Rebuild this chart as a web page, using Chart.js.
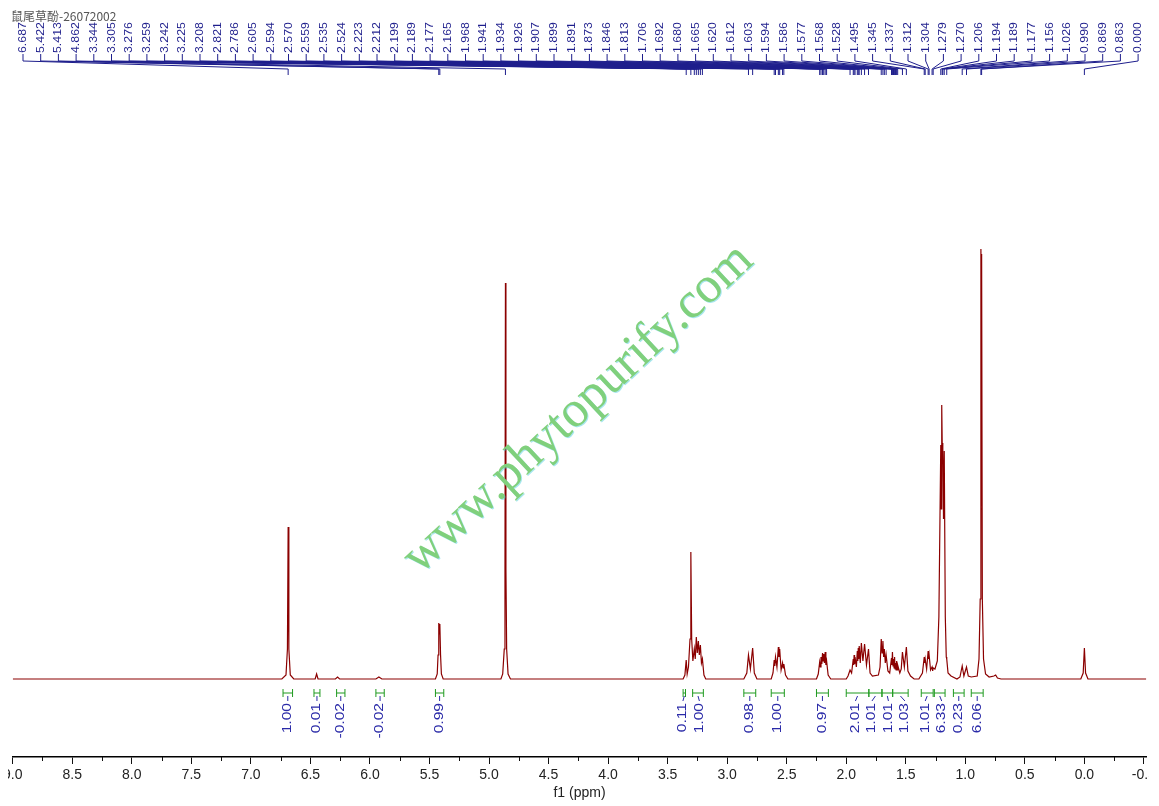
<!DOCTYPE html>
<html>
<head>
<meta charset="utf-8">
<title>鼠尾草酚 1H NMR</title>
<script src="https://cdn.jsdelivr.net/npm/chart.js"></script>
<style>
  html, body { margin: 0; padding: 0; background: #fff; }
  #nmr { display: block; clip-path: inset(0 10px 0 8px); }
</style>
</head>
<body>
<canvas id="nmr" width="1159" height="806"></canvas>
<script>
// spectrum trace: chemical shift (ppm) and intensity, left to right
const specPpm = [
  9.00,
  6.74, 6.705, 6.693, 6.687, 6.681, 6.669, 6.64,
  6.46, 6.448, 6.436,
  6.29, 6.272, 6.255,
  5.95, 5.925, 5.90,
  5.45, 5.435, 5.428, 5.422, 5.417, 5.413, 5.407, 5.40, 5.385,
  4.90, 4.885, 4.872, 4.866, 4.862, 4.858, 4.852, 4.84, 4.82,
  3.37, 3.355, 3.344, 3.336, 3.325, 3.312, 3.305, 3.298, 3.288, 3.276, 3.268, 3.259, 3.251, 3.242, 3.234, 3.225, 3.216, 3.208, 3.195, 3.18,
  2.86, 2.835, 2.821, 2.805, 2.786, 2.772, 2.75,
  2.63, 2.615, 2.605, 2.600, 2.594, 2.582, 2.570, 2.565, 2.559, 2.547, 2.535, 2.530, 2.524, 2.51, 2.49,
  2.25, 2.235, 2.223, 2.217, 2.212, 2.205, 2.199, 2.194, 2.189, 2.183, 2.177, 2.171, 2.165, 2.152, 2.13,
  2.00, 1.985, 1.968, 1.955, 1.941, 1.937, 1.934, 1.930, 1.926, 1.915, 1.907, 1.903, 1.899, 1.895, 1.891, 1.882, 1.873, 1.860, 1.846, 1.830, 1.813, 1.80, 1.78,
  1.73, 1.716, 1.706, 1.699, 1.692, 1.686, 1.680, 1.672, 1.665, 1.650, 1.635, 1.620, 1.616, 1.612, 1.607, 1.603, 1.598, 1.594, 1.590, 1.586, 1.581, 1.577, 1.572, 1.568, 1.55, 1.538, 1.528, 1.512, 1.495, 1.482, 1.46, 1.43,
  1.39, 1.36, 1.345, 1.341, 1.337, 1.325, 1.312, 1.308, 1.304, 1.292, 1.279, 1.274, 1.270, 1.255,
  1.235, 1.222, 1.206, 1.202, 1.198, 1.194, 1.189, 1.183, 1.177, 1.168, 1.160, 1.156, 1.145, 1.12, 1.07,
  1.045, 1.026, 1.012, 0.990, 0.975, 0.95,
  0.90, 0.885, 0.875, 0.869, 0.866, 0.863, 0.857, 0.847, 0.83, 0.80, 0.76, 0.745, 0.73, 0.70,
  0.03, 0.010, 0.000, -0.010, -0.03,
  -0.52
];
const specInt = [
  0,
  0, 4, 30, 152, 30, 4, 0,
  0, 5, 0,
  0, 2, 0,
  0, 2, 0,
  0, 5, 24, 56, 45, 55, 24, 5, 0,
  0, 5, 30, 110, 396, 110, 30, 5, 0,
  0, 4, 19, 5, 12, 40, 127, 40, 18, 30, 20, 42, 26, 38, 24, 34, 16, 20, 4, 0,
  0, 6, 24, 10, 31, 6, 0,
  0, 6, 19, 13, 22, 12, 32, 22, 30, 9, 16, 11, 15, 4, 0,
  0, 5, 17, 12, 22, 15, 26, 18, 25, 16, 27, 14, 18, 4, 0,
  0, 3, 9, 6, 20, 14, 24, 15, 22, 12, 28, 18, 31, 20, 33, 16, 36, 18, 35, 14, 30, 6, 3,
  4, 12, 40, 26, 38, 22, 30, 16, 24, 8, 6, 21, 14, 27, 13, 20, 11, 22, 10, 16, 9, 18, 9, 14, 6, 10, 27, 12, 32, 8, 3, 0,
  0, 6, 22, 16, 20, 10, 28, 20, 24, 9, 12, 8, 11, 10,
  18, 62, 234, 170, 274, 236, 230, 160, 228, 62, 22, 20, 6, 3, 0,
  2, 13, 3, 12, 3, 2,
  3, 20, 80, 430, 390, 425, 80, 20, 5, 2, 3, 4, 1, 0,
  0, 6, 31, 6, 0,
  0
];

// peak picking labels across the top
const peakLabels = [
  '6.687', '5.422', '5.413', '4.862', '3.344', '3.305', '3.276', '3.259', '3.242', '3.225', '3.208',
  '2.821', '2.786', '2.605', '2.594', '2.570', '2.559', '2.535', '2.524',
  '2.223', '2.212', '2.199', '2.189', '2.177', '2.165',
  '1.968', '1.941', '1.934', '1.926', '1.907', '1.899', '1.891', '1.873', '1.846', '1.813',
  '1.706', '1.692', '1.680', '1.665', '1.620', '1.612', '1.603', '1.594', '1.586', '1.577', '1.568',
  '1.528', '1.495', '1.345', '1.337', '1.312', '1.304', '1.279', '1.270',
  '1.206', '1.194', '1.189', '1.177', '1.156', '1.026', '0.990', '0.869', '0.863', '0.000'
];

// integration regions (ppm from / to) and their values
const integFrom = [6.73, 6.47, 6.28, 5.95, 5.45, 3.37, 3.29, 2.86, 2.63, 2.25, 2.00, 1.81, 1.70, 1.61, 1.37, 1.26, 1.10, 0.95];
const integTo   = [6.65, 6.42, 6.21, 5.88, 5.38, 3.35, 3.20, 2.76, 2.52, 2.15, 1.81, 1.70, 1.61, 1.48, 1.27, 1.17, 1.01, 0.85];
const integValues = ['1.00', '0.01', '-0.02', '-0.02', '0.99', '0.11', '1.00', '0.98', '1.00', '0.97',
  '2.01', '1.01', '1.01', '1.03', '1.01', '6.33', '0.23', '6.06'];

const sampleTitle = '鼠尾草酚-26072002';
const watermark = 'www.phytopurify.com';

const navy = '#1e1e8c';

const annotations = {
  id: 'annotations',
  afterDraw(chart) {
    const c = chart.ctx;
    const x = chart.scales.x;
    const bottom = chart.chartArea.bottom;

    // minor ticks
    c.save();
    c.strokeStyle = '#111';
    c.lineWidth = 1;
    for (const t of x.ticks) {
      if (Math.abs(t.value * 2 - Math.round(t.value * 2)) > 1e-6) {
        const px = Math.round(x.getPixelForValue(t.value)) + 0.5;
        c.beginPath();
        c.moveTo(px, bottom);
        c.lineTo(px, bottom + 4);
        c.stroke();
      }
    }
    c.restore();

    // peak labels with leader lines
    c.save();
    c.font = '11px "Liberation Sans", Arial, sans-serif';
    c.fillStyle = navy;
    c.strokeStyle = navy;
    c.lineWidth = 1;
    const slot0 = 23, slotStep = 17.7;
    peakLabels.forEach((lab, i) => {
      const sx = slot0 + i * slotStep;
      const px = x.getPixelForValue(parseFloat(lab));
      c.save();
      c.translate(sx, 53);
      c.rotate(-Math.PI / 2);
      c.scale(1.12, 1);
      c.textAlign = 'left';
      c.textBaseline = 'middle';
      c.fillText(lab, 0, 0);
      c.restore();
      c.beginPath();
      c.moveTo(sx, 54);
      c.lineTo(sx, 61);
      c.lineTo(px, 69);
      c.lineTo(px, 75);
      c.stroke();
    });
    c.restore();

    // integrals
    const centers = integFrom.map((a, i) => (x.getPixelForValue(a) + x.getPixelForValue(integTo[i])) / 2);
    const lx = centers.slice();
    const gap = 16.5;
    for (let it = 0; it < 300; it++) {
      let moved = false;
      for (let i = 1; i < lx.length; i++) {
        const d = lx[i] - lx[i - 1];
        if (d < gap - 0.01) {
          const s = (gap - d) / 2;
          lx[i - 1] -= s;
          lx[i] += s;
          moved = true;
        }
      }
      if (!moved) break;
    }
    c.save();
    c.lineWidth = 1;
    integFrom.forEach((a, i) => {
      const x1 = x.getPixelForValue(a);
      const x2 = x.getPixelForValue(integTo[i]);
      c.strokeStyle = '#1f9a1f';
      c.beginPath();
      c.moveTo(x1, 689); c.lineTo(x1, 697);
      c.moveTo(x1, 693); c.lineTo(x2, 693);
      c.moveTo(x2, 689); c.lineTo(x2, 697);
      c.stroke();
      c.strokeStyle = '#2a2aa8';
      c.beginPath();
      c.moveTo(centers[i], 696);
      c.lineTo(lx[i], 701);
      c.stroke();
      c.save();
      c.translate(lx[i], 703);
      c.rotate(-Math.PI / 2);
      c.scale(1.3, 1);
      c.font = '12px "Liberation Sans", Arial, sans-serif';
      c.fillStyle = '#2a2aa8';
      c.textAlign = 'right';
      c.textBaseline = 'middle';
      c.fillText(integValues[i], 0, 0);
      c.restore();
    });
    c.restore();

    // sample name
    c.save();
    c.font = '12px "Noto Sans CJK SC", sans-serif';
    c.fillStyle = '#555';
    c.textBaseline = 'alphabetic';
    c.fillText(sampleTitle, 11, 21);
    c.restore();

    // watermark
    c.save();
    c.translate(420, 575);
    c.rotate(-43 * Math.PI / 180);
    c.font = '51px "Liberation Serif", "DejaVu Serif", serif';
    c.shadowColor = 'rgba(60,200,220,0.45)';
    c.shadowOffsetX = 1;
    c.shadowOffsetY = 1;
    c.fillStyle = '#80d07c';
    c.textBaseline = 'alphabetic';
    c.fillText(watermark, 0, 0);
    c.restore();
  }
};

new Chart(document.getElementById('nmr'), {
  type: 'line',
  data: {
    datasets: [{
      data: specPpm.map((p, i) => ({ x: p, y: specInt[i] })),
      borderColor: '#8b0000',
      borderWidth: 1.2,
      pointRadius: 0,
      fill: false,
      tension: 0
    }]
  },
  options: {
    responsive: false,
    animation: false,
    layout: { padding: { left: 10, right: 12, top: 80, bottom: 0 } },
    plugins: { legend: { display: false }, tooltip: { enabled: false } },
    scales: {
      x: {
        type: 'linear',
        reverse: true,
        min: -0.52,
        max: 9.0,
        afterFit(scale) { scale.height = 49; },
        border: { display: true, color: '#000', width: 1.5 },
        grid: {
          drawOnChartArea: false,
          tickLength: 7,
          color: '#000',
          tickColor: ctx => (ctx.tick && Math.abs(ctx.tick.value * 2 - Math.round(ctx.tick.value * 2)) < 1e-6) ? '#111' : 'rgba(0,0,0,0)'
        },
        ticks: {
          stepSize: 0.25,
          includeBounds: false,
          autoSkip: false,
          maxRotation: 0,
          padding: 3,
          color: '#222',
          font: { family: '"Liberation Sans Narrow", "Liberation Sans", Arial, sans-serif', size: 14 },
          callback: v => Math.abs(v * 2 - Math.round(v * 2)) < 1e-6 ? v.toFixed(1) : ''
        },
        title: {
          display: true,
          text: 'f1 (ppm)',
          color: '#222',
          font: { family: '"Liberation Sans Narrow", "Liberation Sans", Arial, sans-serif', size: 14 },
          padding: { top: 0, bottom: 4 }
        }
      },
      y: {
        display: false,
        min: -78,
        max: 599
      }
    }
  },
  plugins: [annotations]
});
</script>
</body>
</html>
